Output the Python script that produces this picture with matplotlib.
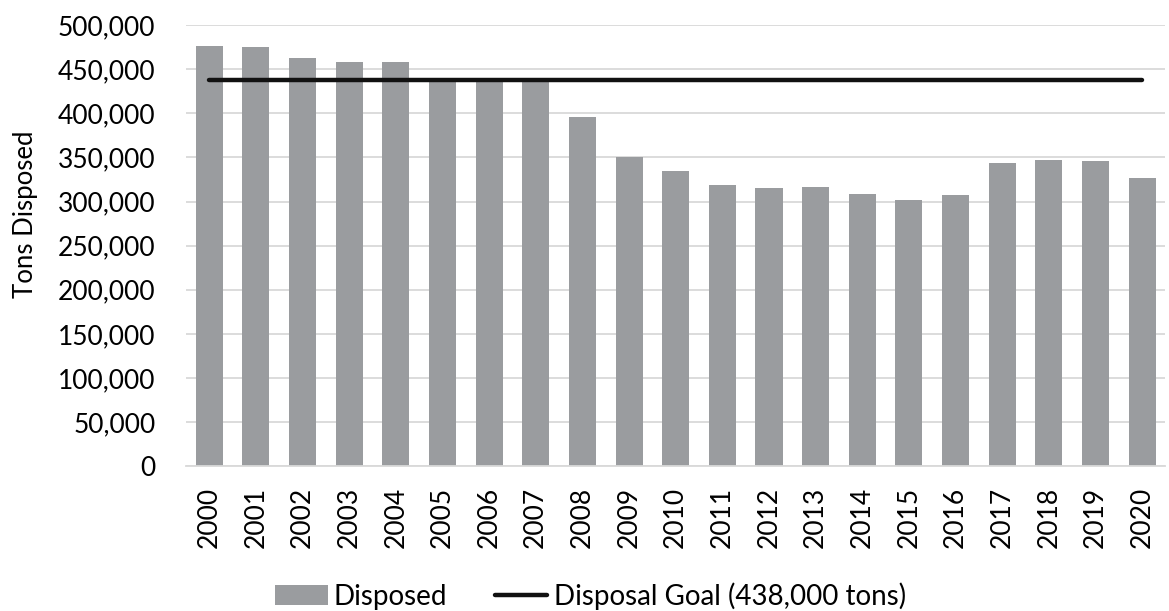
import numpy as np
import matplotlib.pyplot as plt
from matplotlib.ticker import FuncFormatter

plt.rcParams['font.family'] = ['Lato', 'DejaVu Sans']

# Annual tons disposed and the disposal goal
years = [str(y) for y in range(2000, 2021)]
disposed = [476000, 475500, 463000, 458000, 458500, 439000, 438000, 438000,
            395500, 351000, 335000, 319000, 315500, 317000, 309000, 302000,
            307500, 344000, 346500, 345500, 326500]
goal = 438000

fig = plt.figure(figsize=(11.69, 6.11), dpi=100)
ax = fig.add_axes([0.159, 0.237, 0.838, 0.722])

x = np.arange(len(years))
bars = ax.bar(x, disposed, width=0.58, color='#9a9c9f', label='Disposed', zorder=2)
line, = ax.plot([x[0], x[-1]], [goal, goal], color='#111111', linewidth=3.2,
                solid_capstyle='round', label='Disposal Goal (438,000 tons)', zorder=3)

ax.set_xlim(-0.5, len(years) - 0.5)
ax.set_ylim(0, 500000)
ax.set_yticks(np.arange(0, 500001, 50000))
ax.yaxis.set_major_formatter(FuncFormatter(lambda v, p: f'{int(v):,}'))
ax.set_xticks(x)
ax.set_xticklabels(years, rotation=90)

ax.grid(axis='y', color='#d9d9d9', linewidth=1.3, zorder=0)
ax.set_axisbelow(True)
for s in ['top', 'right', 'left']:
    ax.spines[s].set_visible(False)
ax.spines['bottom'].set_color('#d9d9d9')
ax.spines['bottom'].set_linewidth(1.3)
ax.tick_params(axis='both', length=0, labelsize=19, colors='#000000')
ax.tick_params(axis='y', pad=22)
ax.tick_params(axis='x', pad=15)
ax.set_ylabel('Tons Disposed', fontsize=18.5)
ax.yaxis.set_label_coords(-0.151, 0.57)

fig.legend([bars, line], ['Disposed', 'Disposal Goal (438,000 tons)'],
           loc='center', bbox_to_anchor=(0.505, 0.025), ncol=2,
           frameon=False, fontsize=20, handlelength=1.9, handletextpad=0.22,
           columnspacing=1.7, borderpad=0)

fig.savefig('out.png', dpi=100)
